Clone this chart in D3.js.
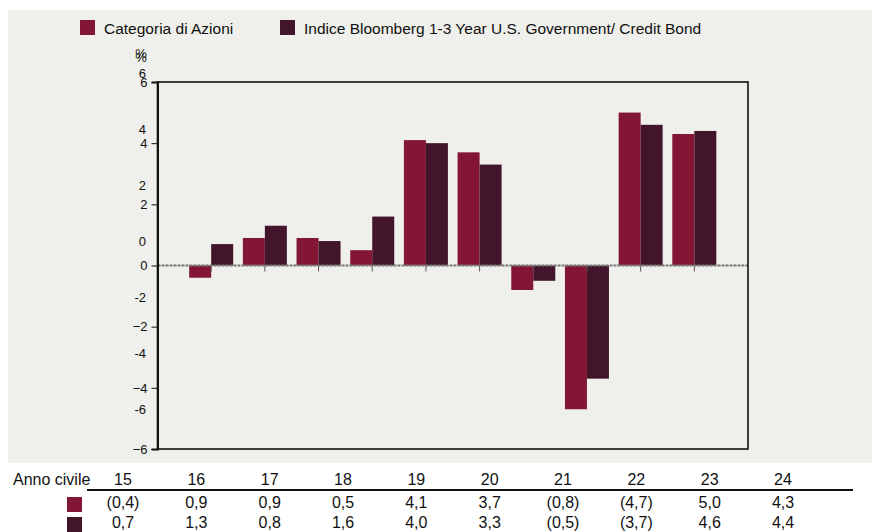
<!DOCTYPE html>
<html><head><meta charset="utf-8">
<script src="https://cdn.jsdelivr.net/npm/d3@7"></script>
<style>
html,body{margin:0;padding:0;background:#fff;}
svg{display:block;font-family:"Liberation Sans",Arial,sans-serif;}
</style></head>
<body>
<svg id="c" width="872" height="532"></svg>
<script>
const years = ["15","16","17","18","19","20","21","22","23","24"];
const seriesNames = ["Categoria di Azioni","Indice Bloomberg 1-3 Year U.S. Government/ Credit Bond"];
const categoria = [-0.4,0.9,0.9,0.5,4.1,3.7,-0.8,-4.7,5.0,4.3];
const indice = [0.7,1.3,0.8,1.6,4.0,3.3,-0.5,-3.7,4.6,4.4];
const yTicks = [-6,-4,-2,0,2,4,6];
const colors = ["#821634","#43152a"];
const tableHeader = "Anno civile";

const svg = d3.select("#c");
const bg = "#efefeb";
svg.append("rect").attr("x",8).attr("y",10).attr("width",864).attr("height",453).attr("fill",bg);

const L=157.5, R=748, T=82, B=449;
const y = d3.scaleLinear().domain([-6,6]).range([B,T]);
const y2 = d3.scaleLinear().domain([-6,6]).range([409,73]);
const x = d3.scalePoint().domain(years).range([L,R]).padding(1);
const xs = d3.scaleBand().domain([0,1]).range([-22,22]);

// legend
const leg = svg.append("g");
const legX = [80,280];
seriesNames.forEach((n,i)=>{
  leg.append("rect").attr("x",legX[i]).attr("y",20).attr("width",15).attr("height",15).attr("fill",colors[i]);
  leg.append("text").attr("x",legX[i]+24).attr("y",34).attr("font-size",15.5).attr("fill","#111").text(n);
});

// bars
const series=[categoria,indice];
series.forEach((vals,si)=>{
  svg.append("g").selectAll("rect").data(vals).join("rect")
    .attr("x",(d,i)=>x(years[i])+xs(si))
    .attr("width",xs.bandwidth())
    .attr("y",d=>y(Math.max(0,d)))
    .attr("height",d=>Math.abs(y(d)-y(0)))
    .attr("fill",colors[si]);
});

// x ticks
svg.append("g").selectAll("line").data(years).join("line")
  .attr("x1",d=>x(d)).attr("x2",d=>x(d)).attr("y1",y(0)).attr("y2",y(0)+6)
  .attr("stroke","#555").attr("stroke-width",1);

// zero line
svg.append("line").attr("x1",L).attr("x2",R).attr("y1",y(0)).attr("y2",y(0))
  .attr("stroke","#777").attr("stroke-width",2).attr("stroke-dasharray","3,1");

// frame
svg.append("rect").attr("x",L).attr("y",T).attr("width",R-L).attr("height",B-T)
  .attr("fill","none").attr("stroke","#111").attr("stroke-width",1.6);

// left axis
const ax = svg.append("g").attr("transform",`translate(${L},0)`)
  .call(d3.axisLeft(y).tickValues(yTicks).tickSize(6).tickPadding(4).tickFormat(d3.format("d")));
ax.select(".domain").attr("stroke","#111").attr("stroke-width",2);
ax.selectAll(".tick line").attr("stroke","#111");
ax.selectAll("text").attr("font-size",13).attr("fill","#111").attr("font-family","Liberation Sans, Arial, sans-serif");

// secondary labels
svg.append("g").selectAll("text").data(yTicks).join("text")
  .attr("x",146).attr("y",d=>y2(d)).attr("dy","0.35em").attr("text-anchor","end")
  .attr("font-size",13).attr("fill","#111").text(d=>d);
svg.append("text").attr("x",141).attr("y",58).attr("text-anchor","middle").attr("font-size",13).attr("fill","#111").text("%");
svg.append("text").attr("x",141).attr("y",62).attr("text-anchor","middle").attr("font-size",13).attr("fill","#111").text("%");

// table
const tx = d3.scalePoint().domain(years).range([123,783]);
const fmt = v => { const s = d3.format(".1f")(Math.abs(v)).replace(".",","); return v<0?`(${s})`:s; };
svg.append("text").attr("x",13).attr("y",485).attr("font-size",16).attr("fill","#111").text(tableHeader);
svg.append("g").selectAll("text").data(years).join("text")
  .attr("x",d=>tx(d)).attr("y",485).attr("text-anchor","middle").attr("font-size",16).attr("fill","#111").text(d=>d);
svg.append("line").attr("x1",87).attr("x2",853).attr("y1",490).attr("y2",490).attr("stroke","#111").attr("stroke-width",2);
const rowY=[508,528];
series.forEach((vals,si)=>{
  svg.append("rect").attr("x",67).attr("y",rowY[si]-11).attr("width",15).attr("height",15).attr("fill",colors[si]);
  svg.append("g").selectAll("text").data(vals).join("text")
    .attr("x",(d,i)=>tx(years[i])).attr("y",rowY[si]).attr("text-anchor","middle")
    .attr("font-size",16).attr("fill","#111").text(d=>fmt(d));
});
</script>
</body></html>
